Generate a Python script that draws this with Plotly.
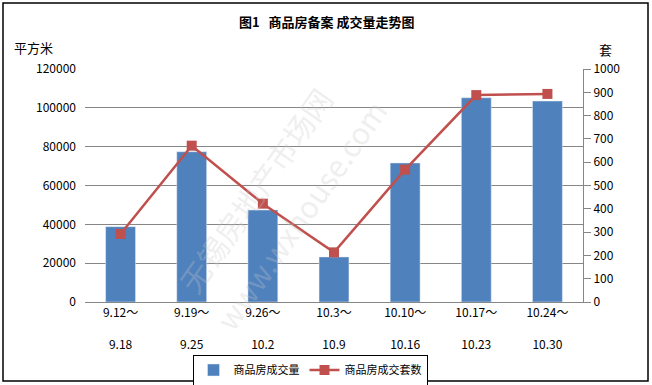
import plotly.graph_objects as go

weeks_start = ["9.12～", "9.19～", "9.26～", "10.3～", "10.10～", "10.17～", "10.24～"]
weeks_end = ["9.18", "9.25", "10.2", "10.9", "10.16", "10.23", "10.30"]
area = [38800, 77400, 47400, 23200, 71600, 105200, 103500]
units = [292, 671, 422, 213, 568, 888, 893]

cats = [f"{a}<br><br>{b}" for a, b in zip(weeks_start, weeks_end)]

FONT = "Noto Sans CJK SC"
W, H = 652, 385
L, R, T, B = 85, 583, 69, 302

def px(x):
    return (x - L) / (R - L)

def py(y):
    return (B - y) / (B - T)

fig = go.Figure()
fig.add_trace(go.Bar(x=cats, y=area, name="商品房成交量", marker_color="#4F81BD",
                     width=0.42, yaxis="y"))
fig.add_trace(go.Scatter(x=cats, y=units, name="商品房成交套数", yaxis="y2",
                         mode="lines+markers",
                         line=dict(color="#C0504D", width=2.5),
                         marker=dict(symbol="square", size=10, color="#C0504D")))

fig.update_layout(
    width=W, height=H,
    margin=dict(l=L, r=W - R, t=T, b=H - B, autoexpand=False),
    paper_bgcolor="white", plot_bgcolor="white",
    font=dict(family=FONT, size=12, color="black"),
    showlegend=True,
    legend=dict(orientation="h", x=px(310), y=py(370),
                xanchor="center", yanchor="middle",
                bordercolor="black", borderwidth=1,
                font=dict(size=11), itemwidth=30, tracegroupgap=0),
    bargap=0.5,
    xaxis=dict(showline=True, linecolor="#868686", linewidth=1, automargin=False,
               ticks="", tickfont=dict(size=12), showgrid=False),
    yaxis=dict(range=[0, 120000], dtick=20000, showgrid=True, gridcolor="#868686",
               gridwidth=1, zeroline=False, showline=False, ticks="", automargin=False,
               tickformat="d", ticklabelstandoff=8, tickfont=dict(size=12)),
    yaxis2=dict(range=[0, 1000], dtick=100, overlaying="y", side="right",
                showgrid=False, zeroline=False, showline=True, linecolor="#868686",
                ticks="outside", ticklen=7, tickcolor="#868686", automargin=False,
                tickformat="d", tickfont=dict(size=12)),
    annotations=[
        dict(text="<b>图1   商品房备案 成交量走势图</b>", xref="paper", yref="paper",
             x=px(326), y=py(22), yanchor="middle", showarrow=False, font=dict(size=13)),
        dict(text="平方米", xref="paper", yref="paper", x=px(12), y=py(47),
             xanchor="left", yanchor="middle", showarrow=False, font=dict(size=13)),
        dict(text="套", xref="paper", yref="paper", x=px(614), y=py(50),
             yanchor="middle", showarrow=False, font=dict(size=13)),
        dict(text="无锡房地产市场网", xref="paper", yref="paper", x=px(255), y=py(190),
             showarrow=False, textangle=-55,
             font=dict(size=30, color="rgba(200,200,200,0.3)")),
        dict(text="www.wxhouse.com", xref="paper", yref="paper", x=px(300), y=py(215),
             showarrow=False, textangle=-55,
             font=dict(size=30, color="rgba(200,200,200,0.3)")),
    ],
    shapes=[
        dict(type="rect", xref="paper", yref="paper",
             x0=px(3), x1=px(648), y0=py(381), y1=py(3),
             line=dict(color="black", width=1.5), fillcolor="rgba(0,0,0,0)"),
    ],
)

fig.write_html("out.html", config={"displayModeBar": False},
               post_script="document.body.style.margin='0px';")
